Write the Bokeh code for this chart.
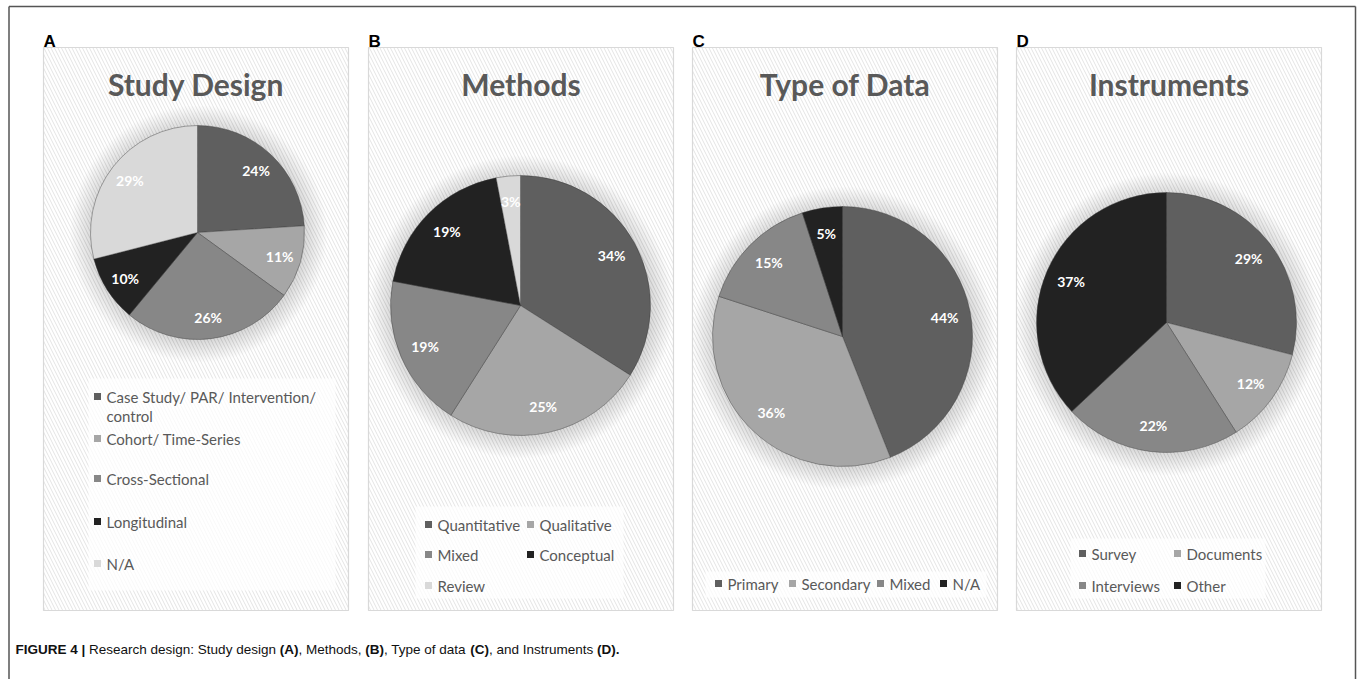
import math
from bokeh.plotting import figure
from bokeh.models import Range1d, ColumnDataSource
from bokeh.core.properties import value
from bokeh.embed import file_html
from bokeh.resources import INLINE

# ---------------- data ----------------
panel_letters = ["A", "B", "C", "D"]
titles = ["Study Design", "Methods", "Type of Data", "Instruments"]

design_labels = ["Case Study/ PAR/ Intervention/\ncontrol", "Cohort/ Time-Series",
                 "Cross-Sectional", "Longitudinal", "N/A"]
design_values = [24, 11, 26, 10, 29]

methods_labels = ["Quantitative", "Qualitative", "Mixed", "Conceptual", "Review"]
methods_values = [34, 25, 19, 19, 3]

datatype_labels = ["Primary", "Secondary", "Mixed", "N/A"]
datatype_values = [44, 36, 15, 5]

instrument_labels = ["Survey", "Documents", "Interviews", "Other"]
instrument_values = [29, 12, 22, 37]

caption_runs = [("FIGURE 4 |", True), (" Research design: Study design ", False), ("(A)", True),
                (", Methods, ", False), ("(B)", True), (", Type of data ", False), ("(C)", True),
                (", and Instruments ", False), ("(D).", True)]

# ---------------- layout / style ----------------
W, H = 1357, 679
def X(px): return px
def Y(py): return H - py

slice_colors = ["#5f5f5f", "#a6a6a6", "#878787", "#222222", "#d9d9d9"]
text_gray = "#595959"

panel_left = [43, 368, 692, 1016]
panel_w = 305
panel_top, panel_bottom = 47, 610
pie_centers = [(197, 232), (520, 305), (842, 336), (1166, 322)]
pie_radii = [107, 130, 130, 130]

legend_pos = [
    [(97, 396), (97, 438), (97, 478), (97, 521), (97, 563)],
    [(428, 524), (530, 524), (428, 554), (530, 554), (428, 585)],
    [(718, 583), (792, 583), (880, 583), (943, 583)],
    [(1082, 553), (1177, 553), (1082, 585), (1177, 585)],
]
legend_boxes = [(88, 378, 335, 590), (415, 506, 623, 598), (705, 571, 986, 597), (1070, 538, 1265, 598)]

p = figure(width=W, height=H, x_range=Range1d(0, W), y_range=Range1d(0, H),
           output_backend="svg", toolbar_location=None, min_border=0,
           x_axis_location=None, y_axis_location=None,
           background_fill_color="white", border_fill_color="white", outline_line_color=None)
p.grid.visible = False

# outer frame
p.line([X(8.5), X(8.5)], [0, Y(6)], line_color="#555555", line_width=1.5)
p.line([X(8.5), X(1355)], [Y(6), Y(6)], line_color="#555555", line_width=1.5)
p.line([X(1355), X(1355)], [0, Y(6)], line_color="#555555", line_width=1.5)

# panels
p.quad(left=[X(l) for l in panel_left], right=[X(l + panel_w) for l in panel_left],
       top=[Y(panel_top)] * 4, bottom=[Y(panel_bottom)] * 4,
       fill_color="white", line_color="#d9d9d9", line_width=1.2,
       hatch_pattern="left_diagonal_line", hatch_color="#e4e4e4", hatch_scale=7, hatch_weight=1)

# legend backgrounds
for (x0, y0, x1, y1) in legend_boxes:
    p.quad(left=[X(x0)], right=[X(x1)], top=[Y(y0)], bottom=[Y(y1)],
           fill_color="white", fill_alpha=0.75, line_color=None)

# letters and titles
for i in range(4):
    p.text(x=[X(panel_left[i])], y=[Y(41)], text=[panel_letters[i]],
           text_font=value("Liberation Sans"), text_font_style="bold", text_font_size="17px",
           text_color="black", text_align="left", text_baseline="alphabetic")
    p.text(x=[X(panel_left[i] + panel_w / 2)], y=[Y(83)], text=[titles[i]],
           text_font=value("Lato"), text_font_style="bold", text_font_size="30px",
           text_color=text_gray, text_align="center", text_baseline="middle")

all_labels = [design_labels, methods_labels, datatype_labels, instrument_labels]
all_values = [design_values, methods_values, datatype_values, instrument_values]

for i in range(4):
    vals = all_values[i]
    labs = all_labels[i]
    cx, cy = X(pie_centers[i][0]), Y(pie_centers[i][1])
    r = pie_radii[i]
    tot = float(sum(vals))
    # soft shadow / glow
    for k in range(18):
        p.circle(x=[cx + 1], y=[cy - 1.5], radius=r + 1 + k * 1.2,
                 fill_color="black", fill_alpha=0.009, line_color=None)
    cum = [0.0]
    for v in vals:
        cum.append(cum[-1] + v / tot)
    starts = [math.pi / 2 - 2 * math.pi * cum[j + 1] for j in range(len(vals))]
    ends = [math.pi / 2 - 2 * math.pi * cum[j] for j in range(len(vals))]
    src = ColumnDataSource(dict(x=[cx] * len(vals), y=[cy] * len(vals), start=starts, end=ends,
                                color=slice_colors[:len(vals)]))
    p.wedge(x="x", y="y", radius=r, start_angle="start", end_angle="end", source=src,
            fill_color="color", line_color="#3a3a3a", line_width=0.6, line_alpha=0.7)
    mids = [math.pi / 2 - 2 * math.pi * (cum[j] + vals[j] / tot / 2) for j in range(len(vals))]
    lx = [cx + 0.8 * r * math.cos(m) for m in mids]
    ly = [cy + 0.8 * r * math.sin(m) for m in mids]
    p.text(x=lx, y=ly, text=[f"{v}%" for v in vals],
           text_font=value("Lato"), text_font_style="bold", text_font_size="14px",
           text_color="white", text_align="center", text_baseline="middle")
    # legend
    for j, lab in enumerate(labs):
        mx, my = legend_pos[i][j]
        p.rect(x=[X(mx)], y=[Y(my)], width=7, height=7, fill_color=slice_colors[j],
               line_color=None)
        for li, line in enumerate(lab.split("\n")):
            p.text(x=[X(mx + 9)], y=[Y(my + li * 19)], text=[line],
                   text_font=value("Lato"), text_font_size="15px", text_color=text_gray,
                   text_align="left", text_baseline="middle")

# caption with mixed bold / normal runs (Arial metrics, units per 1000 em)
reg_w = {' ': 278, ',': 278, '.': 278, ':': 278, '(': 333, ')': 333, '|': 260}
reg_w.update({c: 556 for c in "abdeghnopqu0123456789"})
reg_w.update({c: 500 for c in "cksvxyz"})
reg_w.update({'f': 278, 't': 278, 'i': 222, 'j': 222, 'l': 222, 'm': 833, 'r': 333, 'w': 722})
reg_w.update({'A': 667, 'B': 667, 'C': 722, 'D': 722, 'E': 667, 'F': 611, 'G': 778, 'I': 278,
              'M': 833, 'R': 722, 'S': 667, 'T': 611, 'U': 722})
bold_w = dict(reg_w)
bold_w.update({'A': 722, 'B': 722, 'C': 722, 'D': 722, 'E': 667, 'F': 611, 'G': 778, 'I': 278,
               'R': 722, 'U': 722, '(': 333, ')': 333, '.': 278, ' ': 278, '|': 280,
               'a': 556, 'n': 611, 'd': 611})

def em_width(s, bold):
    tab = bold_w if bold else reg_w
    return sum(tab.get(c, 556) for c in s) / 1000.0

cap_fs = 13.5
cx0 = X(15)
for txt, bold in caption_runs:
    lead = len(txt) - len(txt.lstrip(" "))
    cx0 += lead * 0.278 * cap_fs
    core = txt.strip(" ")
    p.text(x=[cx0], y=[Y(649)], text=[core], text_font=value("Liberation Sans"),
           text_font_style="bold" if bold else "normal", text_font_size=f"{cap_fs}px",
           text_color="#111111", text_align="left", text_baseline="middle")
    cx0 += em_width(core, bold) * cap_fs
    trail = len(txt) - len(txt.rstrip(" "))
    cx0 += trail * 0.278 * cap_fs

open("out.html", "w").write(file_html(p, INLINE))
